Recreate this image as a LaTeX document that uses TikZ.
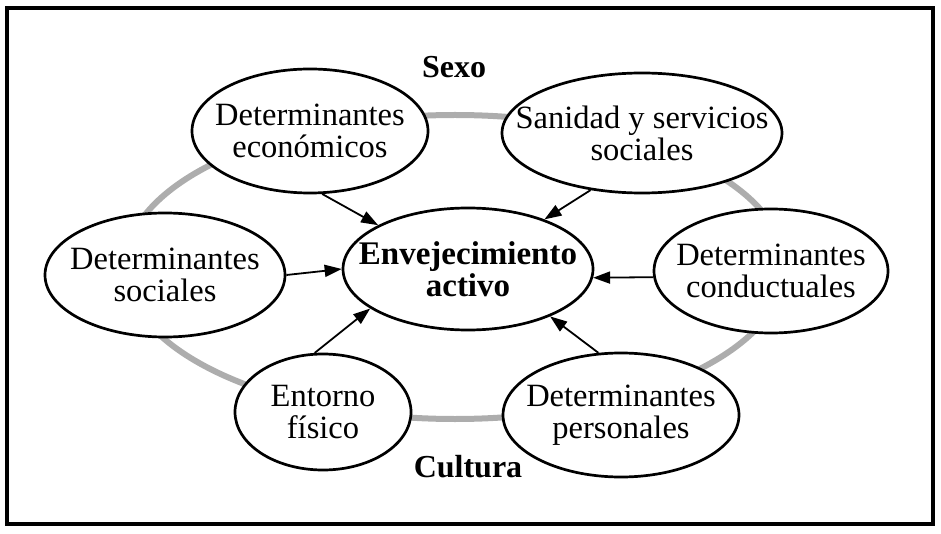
\documentclass[tikz,border=0pt]{standalone}
\usepackage{fontspec}
\setmainfont{Liberation Serif}
\usetikzlibrary{shapes.geometric,arrows.meta}
\begin{document}
\begin{tikzpicture}[
        x=1pt, y=-1pt,
        nodo/.style={draw, ellipse, line width=2.7pt, fill=white, inner sep=-100pt, align=center, font=\fontsize{32.5}{32}\selectfont},
        central/.style={nodo, font=\fontsize{33}{32}\selectfont\bfseries},
        etiqueta/.style={anchor=base, font=\fontsize{32}{32}\selectfont\bfseries},
        flecha/.style={-{Triangle[length=17pt, width=12pt]}, line width=1.8pt}
    ]
    \useasboundingbox (0,0) rectangle (941,534);
    \draw [line width=3.2pt] (7,8) rectangle (933,524);
    \draw [line width=6pt, black!32] (455,267) ellipse [x radius=330pt, y radius=152pt];

    \node (envej) [central, minimum width=250pt, minimum height=122pt] at (468,269) {Envejecimiento\\activo};
    \node (econ) [nodo, minimum width=236pt, minimum height=124pt] at (310,131) {Determinantes\\económicos};
    \node (sanidad) [nodo, minimum width=280pt, minimum height=120pt] at (642,133) {Sanidad y servicios\\sociales};
    \node (social) [nodo, minimum width=240pt, minimum height=124pt] at (165,275) {Determinantes\\sociales};
    \node (conduct) [nodo, minimum width=234pt, minimum height=124pt] at (771,271) {Determinantes\\conductuales};
    \node (entorno) [nodo, minimum width=176pt, minimum height=116pt] at (323,412) {Entorno\\físico};
    \node (personal) [nodo, minimum width=236pt, minimum height=124pt] at (621,415) {Determinantes\\personales};
    \node (sexo) [etiqueta] at (454,78) {Sexo};
    \node (cultura) [etiqueta] at (468,477) {Cultura};

    \draw [flecha] (econ.-79) -- (envej.154);
    \draw [flecha] (sanidad.-132) -- (envej.33);
    \draw [flecha] (social.east) -- (envej.west);
    \draw [flecha] (conduct.183) -- (envej.-4);
    \draw [flecha] (entorno.98) -- (envej.-158);
    \draw [flecha] (personal.110) -- (envej.-30);
    \end{tikzpicture}
\end{document}
